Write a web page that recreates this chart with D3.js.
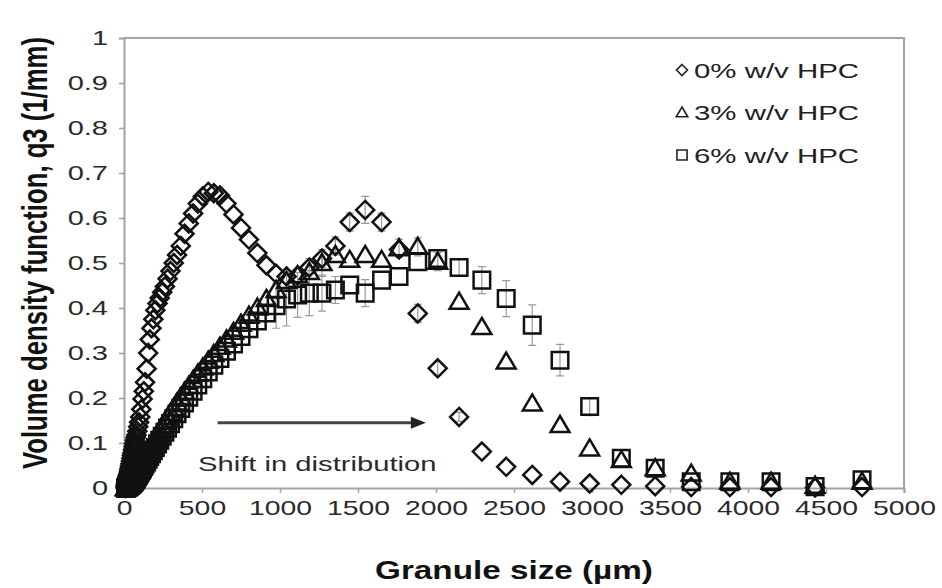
<!DOCTYPE html>
<html><head><meta charset="utf-8">
<script src="https://cdn.jsdelivr.net/npm/d3@7"></script>
<style>
html,body{margin:0;padding:0;background:#fff;}
svg{display:block;font-family:"Liberation Sans",Arial,Helvetica,sans-serif;}
</style></head>
<body><svg id="chart" width="942" height="588"></svg>
<script>
// Granule size bins (µm)
const sizes = [10.5,11.2,11.9,12.7,13.6,14.5,15.5,16.6,17.7,18.9,
20.2,21.5,23,24.6,26.3,28,30,32,34,36.5,
39,41.5,44.5,47.5,50.5,54,57.5,61.5,65.5,70,
75,80,85,91,97,104,111,119,127,135,
145,155,165,176,188,201,215,229,245,262,
279,298,319,340,364,388,415,443,473,505,
540,576,615,657,702,750,801,855,913,975,
1042,1113,1188,1269,1355,1447,1546,1651,1763,1883,
2011,2148,2294,2450,2617,2795,2985,3188,3405,3636,
3884,4148,4430,4731];
// q3 (1/mm), 0% w/v HPC
const q0 = [0.000,0.002,0.004,0.006,0.008,0.010,0.012,0.014,0.016,0.018,
0.020,0.022,0.024,0.026,0.028,0.030,0.033,0.036,0.040,0.044,
0.049,0.054,0.060,0.066,0.072,0.078,0.085,0.092,0.099,0.106,
0.112,0.118,0.126,0.136,0.146,0.158,0.175,0.198,0.215,0.235,
0.265,0.300,0.330,0.355,0.375,0.395,0.410,0.422,0.435,0.448,
0.465,0.482,0.500,0.518,0.538,0.565,0.588,0.610,0.632,0.648,
0.658,0.655,0.650,0.632,0.608,0.578,0.552,0.522,0.495,0.476,
0.470,0.472,0.490,0.510,0.538,0.591,0.618,0.591,0.530,0.388,
0.266,0.158,0.081,0.047,0.029,0.014,0.010,0.007,0.004,0.002,
0.002,0.002,0.001,0.002];
// 3% w/v HPC
const q3 = [0.000,0.000,0.000,0.000,0.000,0.001,0.001,0.001,0.002,0.002,
0.002,0.003,0.003,0.003,0.004,0.004,0.005,0.005,0.006,0.006,
0.007,0.008,0.009,0.010,0.011,0.012,0.014,0.016,0.018,0.021,
0.024,0.027,0.031,0.035,0.040,0.045,0.050,0.056,0.062,0.068,
0.075,0.082,0.089,0.096,0.104,0.112,0.120,0.128,0.137,0.147,
0.157,0.167,0.178,0.190,0.202,0.214,0.227,0.240,0.254,0.268,
0.283,0.298,0.314,0.330,0.347,0.365,0.383,0.401,0.420,0.440,
0.460,0.473,0.480,0.500,0.518,0.507,0.518,0.507,0.533,0.536,
0.503,0.414,0.358,0.281,0.188,0.140,0.088,0.062,0.044,0.032,
0.014,0.014,0.005,0.014];
// 6% w/v HPC
const q6 = [0.000,0.000,0.000,0.000,0.000,0.000,0.001,0.001,0.001,0.001,
0.002,0.002,0.002,0.003,0.003,0.003,0.004,0.004,0.005,0.005,
0.006,0.006,0.007,0.008,0.009,0.010,0.011,0.013,0.015,0.017,
0.019,0.022,0.025,0.028,0.031,0.035,0.039,0.043,0.048,0.053,
0.058,0.064,0.070,0.076,0.083,0.090,0.098,0.106,0.115,0.124,
0.133,0.143,0.154,0.165,0.177,0.189,0.202,0.215,0.229,0.243,
0.258,0.273,0.288,0.304,0.320,0.337,0.354,0.371,0.389,0.405,
0.420,0.429,0.433,0.433,0.440,0.451,0.433,0.462,0.470,0.503,
0.510,0.490,0.462,0.421,0.362,0.284,0.181,0.066,0.044,0.014,
0.014,0.014,0.003,0.018];
// error bars [size, ±error]
const err0 = [[1269,0.02],[1355,0.02],[1447,0.02],[1546,0.03],[1651,0.02],[1883,0.02],[2011,0.015],[2148,0.01]];
const err3 = [[1188,0.03],[1269,0.03],[1763,0.02],[1883,0.02],[2011,0.02]];
const err6 = [[975,0.05],[1042,0.06],[1113,0.05],[1188,0.05],[1269,0.04],[1355,0.03],[1546,0.03],
[2148,0.02],[2294,0.03],[2450,0.04],[2617,0.045],[2795,0.035],[2985,0.02]];
const seriesNames = ["0% w/v HPC","3% w/v HPC","6% w/v HPC"];
const xTicks = [0,500,1000,1500,2000,2500,3000,3500,4000,4500,5000];
const yTicks = [0,0.1,0.2,0.3,0.4,0.5,0.6,0.7,0.8,0.9,1];
const xTitle = "Granule size (µm)";
const yTitle = "Volume density function, q3 (1/mm)";
const note = "Shift in distribution";
const noteArrow = [600, 1935]; // µm span of arrow
const noteLevel = 0.145;

const svg = d3.select("#chart");
const x = d3.scaleLinear().domain([0,5000]).range([124,904]);
const y = d3.scaleLinear().domain([0,1]).range([488,38]);
const axisCol = "#a3a3a3";
const ink = "#111";

function stretch(sel,k){ sel.each(function(){ const L=this.getComputedTextLength(); this.setAttribute("textLength",L*k); this.setAttribute("lengthAdjust","spacingAndGlyphs"); }); }

// plot border (top & right)
svg.append("path").attr("d",`M${x(0)},${y(1)}H${x(5000)}V${y(0)}`).attr("fill","none").attr("stroke",axisCol).attr("stroke-width",2);

// axes
const gx = svg.append("g").attr("transform",`translate(0,${y(0)})`)
  .call(d3.axisBottom(x).tickValues(xTicks).tickFormat(d3.format("d")).tickSize(5).tickPadding(7));
const gy = svg.append("g").attr("transform",`translate(${x(0)},0)`)
  .call(d3.axisLeft(y).tickValues(yTicks).tickFormat(d=>d3.format("")(+d.toFixed(1))).tickSize(5).tickPadding(11));
[gx,gy].forEach(g=>{
  g.select(".domain").attr("stroke",axisCol).attr("stroke-width",2);
  g.selectAll(".tick line").attr("stroke",axisCol).attr("stroke-width",1.5);
  g.selectAll(".tick text").attr("fill","#2a2a2a").style("font-size","21px").style("font-family","'Liberation Sans',Arial,sans-serif");
});
stretch(gx.selectAll(".tick text"),1.35);
stretch(gy.selectAll(".tick text"),1.38);

// error bars
const errSets = [err0.map(([s,e])=>[s,q0[sizes.indexOf(s)],e]),
                 err3.map(([s,e])=>[s,q3[sizes.indexOf(s)],e]),
                 err6.map(([s,e])=>[s,q6[sizes.indexOf(s)],e])];
const eg = svg.append("g").attr("stroke","#9a9a9a").attr("stroke-width",1.2).attr("fill","none");
errSets.flat().forEach(([s,v,e])=>{
  const cx=x(s), y1=y(v+e), y2=y(Math.max(0,v-e));
  eg.append("path").attr("d",`M${cx},${y1}V${y2}M${cx-4},${y1}h8M${cx-4},${y2}h8`);
});

// marker shapes
const shapes = [
  r=>`M0,${-r}L${r},0L0,${r}L${-r},0Z`,
  r=>`M0,${-r}L${r*1.05},${r*0.78}L${-r*1.05},${r*0.78}Z`,
  r=>`M${-r*0.92},${-r*0.92}H${r*0.92}V${r*0.92}H${-r*0.92}Z`
];
const data = [q0,q3,q6];
data.forEach((vals,i)=>{
  svg.append("g").selectAll("path").data(sizes.map((s,j)=>[s,vals[j]])).join("path")
    .attr("transform",d=>`translate(${x(d[0])},${y(d[1])})`)
    .attr("d",shapes[i](9))
    .attr("fill","none").attr("stroke",ink).attr("stroke-width",2.5);
});

// legend
const lg = svg.append("g");
const legY = [70,112.5,155];
seriesNames.forEach((n,i)=>{
  lg.append("path").attr("transform",`translate(682,${legY[i]})`).attr("d",shapes[i](5.5))
    .attr("fill","none").attr("stroke","#222").attr("stroke-width",1.6);
  const t = lg.append("text").attr("x",694).attr("y",legY[i]).attr("dy","0.36em")
    .attr("fill","#222").style("font-size","21px").text(n);
  stretch(t,1.4);
});

// annotation arrow
const ay = y(noteLevel);
svg.append("path").attr("d",`M${x(noteArrow[0])},${ay}H${x(noteArrow[1])-13}`).attr("stroke","#444").attr("stroke-width",3);
svg.append("path").attr("d",`M${x(noteArrow[1])},${ay}l-15,-6v12Z`).attr("fill","#222");
const nt = svg.append("text").attr("x",198).attr("y",471).attr("fill","#2a2a2a").style("font-size","21px").text(note);
stretch(nt,1.39);

// axis titles
const xt = svg.append("text").attr("x",514).attr("y",579).attr("text-anchor","middle")
  .style("font-size","25px").style("font-weight","bold").attr("fill","#111").text(xTitle);
stretch(xt,1.33);
svg.append("text").attr("transform","translate(47,253) rotate(-90) scale(1,1.4)").attr("text-anchor","middle")
  .style("font-size","25.7px").style("font-weight","bold").attr("fill","#111").text(yTitle);
</script></body></html>
